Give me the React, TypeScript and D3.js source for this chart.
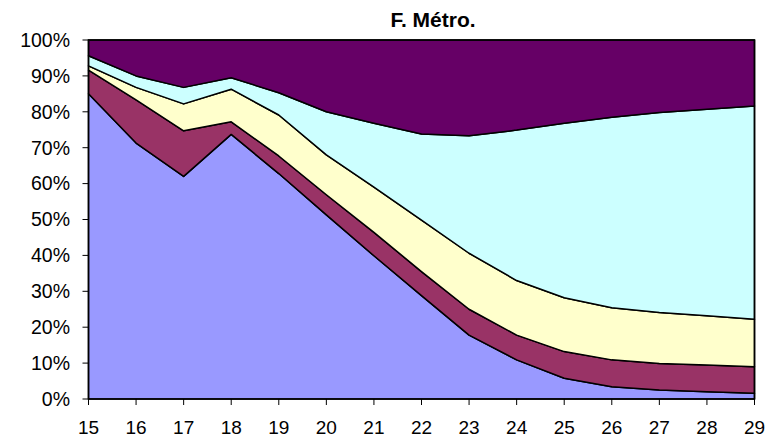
import React from "react";
import * as d3 from "d3";

const categories = [15, 16, 17, 18, 19, 20, 21, 22, 23, 24, 25, 26, 27, 28, 29];
const seriesNames = ["s1", "s2", "s3", "s4", "s5"];
const s1 = [85.0, 71.3, 62.0, 73.7, 62.8, 51.3, 39.9, 28.8, 17.8, 10.9, 5.8, 3.4, 2.5, 2.0, 1.6];
const s2 = [6.6, 12.0, 12.7, 3.5, 4.9, 5.6, 6.5, 6.7, 7.2, 6.9, 7.4, 7.5, 7.4, 7.5, 7.4];
const s3 = [1.2, 3.5, 7.5, 9.1, 11.4, 11.1, 12.6, 14.3, 15.6, 15.2, 15.0, 14.5, 14.2, 13.7, 13.2];
const s4 = [2.8, 3.2, 4.6, 3.2, 6.2, 12.0, 17.8, 24.0, 32.7, 41.9, 48.6, 53.1, 55.7, 57.5, 59.4];
const s5 = [4.4, 10.0, 13.2, 10.5, 14.7, 20.0, 23.2, 26.2, 26.7, 25.1, 23.2, 21.5, 20.2, 19.3, 18.4];
const colors = ["#9999FF", "#993366", "#FFFFCC", "#CCFFFF", "#660066"];
const yTicks = [0, 0.1, 0.2, 0.3, 0.4, 0.5, 0.6, 0.7, 0.8, 0.9, 1.0];
const title = "F. Métro.";

const W = 767, H = 438;
const L = 88.5, R = 754.5, T = 40, B = 399;
const font = "Arial, 'Liberation Sans', sans-serif";

export default function App() {
  const rows = categories.map((c, i) => ({
    cat: c, s1: s1[i], s2: s2[i], s3: s3[i], s4: s4[i], s5: s5[i],
  }));
  const stack = d3.stack<any>().keys(seriesNames).offset(d3.stackOffsetExpand);
  const layers = stack(rows);
  const x = d3.scaleLinear().domain([categories[0], categories[categories.length - 1]]).range([L, R]);
  const y = d3.scaleLinear().domain([0, 1]).range([B, T]);
  const area = d3.area<any>().x((d) => x(d.data.cat)).y0((d) => y(d[0])).y1((d) => y(d[1]));
  const pct = d3.format(".0%");

  return (
    <svg width={W} height={H} style={{ position: "absolute", left: 0, top: 0, background: "#fff" }}>
      {layers.map((layer, i) => (
        <path key={i} d={area(layer) || ""} fill={colors[i]} stroke="#000" strokeWidth={1.5} strokeLinejoin="round" />
      ))}
      <rect x={L} y={T} width={R - L} height={B - T} fill="none" stroke="#000" strokeWidth={1.5} />
      {yTicks.map((t) => (
        <g key={t}>
          <line x1={L - 6} x2={L} y1={y(t)} y2={y(t)} stroke="#000" strokeWidth={1} />
          <text x={70} y={y(t)} dy="0.35em" textAnchor="end" fontFamily={font} fontSize={19.5} fill="#000">
            {pct(t)}
          </text>
        </g>
      ))}
      {categories.map((c) => (
        <g key={c}>
          <line x1={x(c)} x2={x(c)} y1={B} y2={B + 6} stroke="#000" strokeWidth={1} />
          <text x={x(c)} y={434} textAnchor="middle" fontFamily={font} fontSize={19} fill="#000">
            {c}
          </text>
        </g>
      ))}
      <text x={433} y={27} textAnchor="middle" fontFamily={font} fontSize={21} fontWeight="bold" fill="#000">
        {title}
      </text>
    </svg>
  );
}
